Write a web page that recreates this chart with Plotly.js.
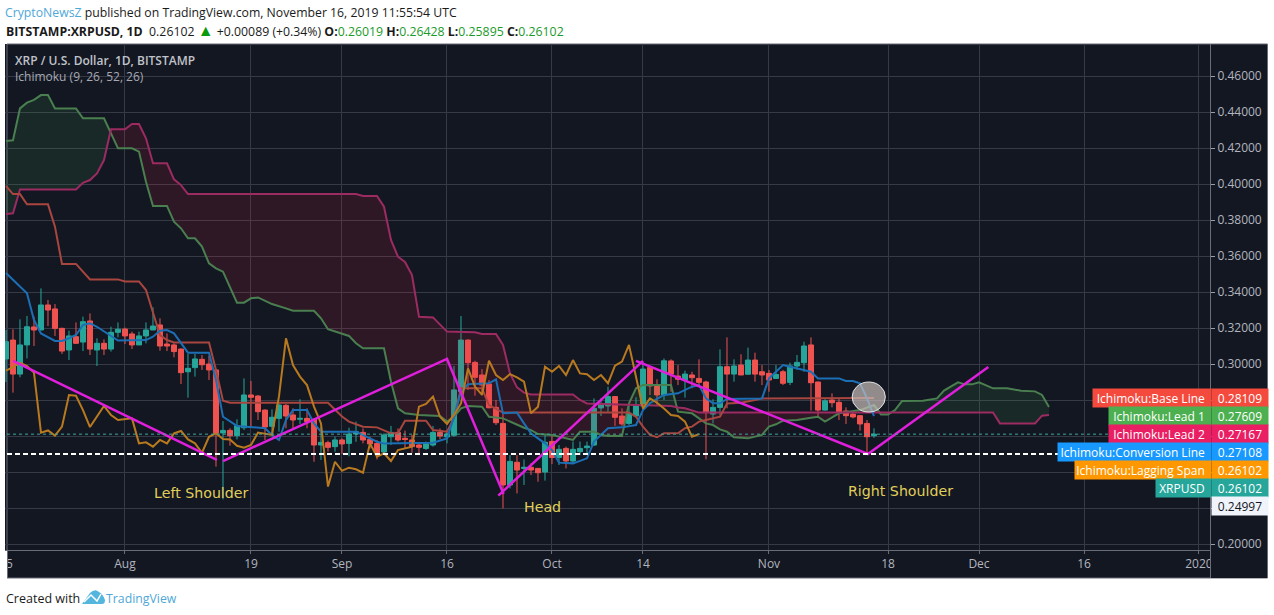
<!DOCTYPE html>
<html><head><meta charset="utf-8">
<script src="https://cdn.plot.ly/plotly-3.0.1.min.js"></script>
<style>html,body{margin:0;padding:0;background:#fff;overflow:hidden}#chart{position:absolute;left:0;top:0;width:1274px;height:615px}
.mask{position:absolute;z-index:5}</style></head>
<body><div id="chart"></div>
<div class="mask" style="left:0;top:551px;width:7px;height:30px;background:#fff"></div>
<div class="mask" style="left:7px;top:551px;width:1px;height:27px;background:#6a6d78"></div>
<div class="mask" style="left:1211px;top:551px;width:56px;height:27px;background:#131722"></div>
<script>
// ---- Daily candles, 2019-07-15 .. 2019-11-16 ----
const firstCandleDate = '2019-07-15';
const opens = [
 .3028,.3133,.2944,.3106,.3206,.3189,.3328,.3306,.3198,.3078,.3152,.3122,.3239,.3078,.3115,.3083,.3176,
 .3194,.3167,.3106,.3156,.3189,.3217,.3111,.3106,.3083,.2957,.2980,.3026,.3000,.2967,.2617,.2631,.2602,.2646,.2828,.2822,.2744,.2654,.2698,.2770,.2717,.2693,.2698,.2693,.2550,.2563,.2541,
 .2578,.2559,.2611,.2620,.2581,.2559,.2511,.2596,.2620,.2587,.2578,.2550,.2531,.2550,.2620,.2595,.2604,.2846,.3133,.3009,.2939,.2889,.2759,.2670,.2328,.2454,.2420,.2426,.2420,.2400,
 .2570,.2481,.2531,.2461,.2513,.2535,.2550,.2756,.2767,.2819,.2711,.2670,.2711,.2767,.2980,.2881,.2828,.3017,.2933,.2911,.2939,.2920,.2900,.2722,.2759,.2985,.2944,.2994,.2943,.3022,.2957,
 .2948,.2920,.2957,.2898,.2989,.3007,.3106,.2900,.2744,.2800,.2787,.2739,.2722,.2713,.2670,.26019];
const highs = [
 .3189,.3193,.3248,.3267,.3263,.3420,.3356,.3333,.3202,.3185,.3231,.3263,.3281,.3143,.3137,.3207,.3231,
 .3202,.3180,.3180,.3231,.3315,.3254,.3170,.3115,.3087,.3056,.3056,.3050,.3046,.2970,.2683,.2643,.2693,.2920,.2906,.2828,.2748,.2748,.2780,.2778,.2754,.2804,.2754,.2698,.2652,.2574,.2596,
 .2587,.2646,.2680,.2642,.2596,.2578,.2615,.2656,.2642,.2630,.2606,.2559,.2569,.2656,.2642,.2633,.2989,.3267,.3137,.3018,.2972,.2911,.2800,.2726,.2494,.2494,.2470,.2448,.2420,.2611,
 .2600,.2550,.2541,.2569,.2569,.2569,.2809,.2809,.2874,.2822,.2754,.2767,.2815,.3013,.2980,.2915,.3031,.3026,.2994,.2963,.2957,.3026,.2907,.2804,.3081,.3148,.3026,.3054,.3091,.3063,.2994,
 .2967,.2994,.2967,.3007,.3050,.3124,.3148,.2902,.2805,.2837,.2806,.2759,.2730,.2717,.2689,.26428];
const lows = [
 .2900,.2841,.2926,.3031,.3100,.3189,.3211,.3156,.3056,.3022,.3111,.3072,.3050,.2989,.3050,.3069,.3148,
 .3111,.3083,.3106,.3115,.3189,.3074,.3072,.3037,.2889,.2813,.2930,.2967,.2911,.2430,.2248,.2546,.2581,.2633,.2652,.2689,.2578,.2606,.2624,.2643,.2643,.2667,.2643,.2457,.2467,.2513,.2513,
 .2500,.2487,.2568,.2559,.2531,.2470,.2500,.2550,.2569,.2531,.2507,.2494,.2522,.2541,.2582,.2559,.2596,.2833,.2856,.2824,.2828,.2754,.2661,.2198,.2309,.2281,.2328,.2383,.2346,.2352,
 .2444,.2439,.2420,.2444,.2494,.2504,.2544,.2711,.2735,.2656,.2656,.2661,.2704,.2744,.2828,.2772,.2800,.2846,.2883,.2813,.2865,.2874,.2470,.2670,.2717,.2754,.2902,.2939,.2943,.2902,.2883,
 .2846,.2920,.2883,.2883,.2967,.2957,.2741,.2704,.2741,.2759,.2689,.2667,.2698,.2630,.2507,.25895];
const closes = [
 .3124,.2944,.3106,.3207,.3189,.3328,.3300,.3198,.3072,.3156,.3115,.3235,.3083,.3115,.3083,.3176,.3193,
 .3156,.3106,.3156,.3189,.3211,.3100,.3100,.3069,.2952,.2976,.3028,.2996,.2967,.2615,.2631,.2602,.2657,.2828,.2815,.2735,.2650,.2704,.2772,.2711,.2689,.2698,.2680,.2550,.2565,.2537,.2578,
 .2556,.2611,.2624,.2578,.2556,.2507,.2606,.2620,.2578,.2581,.2541,.2537,.2557,.2620,.2600,.2611,.2856,.3133,.3007,.2926,.2883,.2757,.2674,.2328,.2459,.2411,.2426,.2411,.2396,.2565,
 .2481,.2526,.2461,.2526,.2531,.2544,.2754,.2778,.2819,.2704,.2667,.2726,.2772,.2972,.2878,.2828,.3018,.2944,.2915,.2944,.2924,.2898,.2730,.2759,.2985,.2944,.2989,.2939,.3022,.2944,.2939,
 .2911,.2942,.2893,.2989,.3009,.3100,.2896,.2744,.2796,.2785,.2731,.2713,.2706,.2667,.2596,.26102];

// ---- Ichimoku lines (date "MM-DD" in 2019, value) ----
const conversionDates = ['07-15','07-16','07-18','07-19','07-20','07-22','07-23','07-24','07-25','07-26','07-27','07-28','07-29','07-30','07-31','08-04','08-05','08-06','08-07','08-08','08-09','08-10','08-13','08-14','08-15','08-16','08-17','08-21','08-22','08-23','08-24','08-25','08-27','08-28','08-29','09-03','09-06','09-07','09-14','09-16','09-17','09-18','09-19','09-22','09-23','09-24','09-26','09-27','09-28','09-29','09-30','10-01','10-02','10-04','10-06','10-07','10-08','10-09','10-11','10-13','10-14','10-15','10-16','10-17','10-19','10-20','10-21','10-22','10-23','10-24','10-25','10-26','10-31','11-01','11-02','11-03','11-04','11-06','11-07','11-08','11-11','11-12','11-13','11-14','11-15','11-16'];
const conversionValues = [.3506,.3467,.3393,.3244,.3170,.3128,.3128,.3143,.3161,.3217,.3226,.3207,.3180,.3152,.3130,.3133,.3152,.3185,.3189,.3170,.3115,.3063,.3063,.2911,.2707,.2680,.2656,.2643,.2606,.2578,.2689,.2744,.2744,.2670,.2624,.2624,.2568,.2559,.2563,.2587,.2704,.2846,.2887,.2893,.2915,.2726,.2730,.2670,.2615,.2587,.2559,.2522,.2452,.2448,.2476,.2569,.2606,.2643,.2648,.2661,.2744,.2782,.2806,.2828,.2837,.2856,.2874,.2883,.2809,.2782,.2782,.2806,.2809,.2920,.2957,.2994,.2985,.2967,.2957,.2920,.2920,.2906,.2906,.2893,.2809,.27108];

const baseDates = ['07-15','07-16','07-17','07-18','07-21','07-22','07-23','07-25','07-27','07-31','08-01','08-03','08-04','08-05','08-06','08-07','08-08','08-13','08-14','08-15','08-16','08-30','08-31','09-01','09-02','09-04','09-06','09-08','09-09','09-10','09-13','09-14','09-16','09-17','09-18','09-21','09-22','09-24','10-12','10-13','10-14','10-15','10-16','10-17','10-19','10-20','10-21','10-22','10-23','10-25','10-26','10-28','10-30','10-31','11-16'];
const baseValues = [.3989,.3944,.3944,.3887,.3887,.3763,.3556,.3556,.3470,.3470,.3459,.3459,.3411,.3281,.3161,.3133,.3120,.3120,.2967,.2796,.2785,.2785,.2744,.2708,.2680,.2652,.2648,.2615,.2615,.2685,.2685,.2633,.2624,.2700,.2865,.2865,.2772,.2730,.2730,.2707,.2652,.2606,.2593,.2615,.2615,.2643,.2652,.2680,.2689,.2707,.2781,.2785,.2800,.2809,.28109];

const lead1Dates = ['07-15','07-16','07-17','07-18','07-19','07-20','07-21','07-22','07-25','07-26','07-29','07-30','07-31','08-02','08-03','08-04','08-05','08-07','08-08','08-09','08-10','08-11','08-12','08-13','08-14','08-15','08-16','08-17','08-18','08-19','08-20','08-21','08-22','08-24','08-25','08-28','08-29','08-30','08-31','09-01','09-02','09-03','09-04','09-07','09-08','09-09','09-10','09-12','09-15','09-16','09-17','09-18','09-19','09-21','09-22','09-24','09-25','09-27','09-28','09-29','10-01','10-02','10-04','10-05','10-07','10-08','10-09','10-11','10-12','10-13','10-14','10-18','10-19','10-21','10-22','10-23','10-24','10-25','10-26','10-27','10-29','10-31','11-01','11-02','11-03','11-05','11-07','11-08','11-09','11-11','11-14','11-16','11-17','11-18','11-19','11-20','11-23','11-25','11-26','11-28','11-29','11-30','12-01','12-03','12-05','12-07','12-09','12-10','12-11'];
const lead1Values = [.4239,.4243,.4420,.4452,.4467,.4494,.4494,.4420,.4420,.4365,.4365,.4282,.4198,.4198,.4180,.4013,.3878,.3878,.3791,.3754,.3698,.3698,.3652,.3559,.3531,.3513,.3430,.3341,.3341,.3365,.3370,.3352,.3333,.3309,.3296,.3296,.3254,.3193,.3180,.3170,.3156,.3115,.3087,.3087,.2902,.2754,.2726,.2717,.2711,.2680,.2707,.2754,.2767,.2763,.2707,.2698,.2680,.2646,.2633,.2611,.2606,.2596,.2578,.2624,.2624,.2606,.2600,.2600,.2781,.2865,.2883,.2883,.2735,.2726,.2698,.2670,.2661,.2637,.2624,.2593,.2587,.2606,.2652,.2665,.2685,.2689,.2702,.2707,.2680,.2726,.2744,.2772,.2720,.2720,.2744,.2794,.2796,.2809,.2852,.2898,.2887,.2887,.2898,.2865,.2865,.2852,.2848,.2828,.27609];

const lead2Dates = ['07-15','07-16','07-17','07-25','07-26','07-27','07-28','07-29','07-30','08-01','08-02','08-03','08-04','08-05','08-07','08-08','08-09','08-10','09-03','09-04','09-06','09-07','09-08','09-09','09-10','09-11','09-12','09-14','09-16','09-20','09-21','09-23','09-24','09-25','09-26','09-27','09-28','10-04','10-05','10-06','10-13','10-18','10-19','10-20','10-22','12-03','12-04','12-09','12-10','12-11'];
const lead2Values = [.3833,.3837,.3970,.3970,.4007,.4022,.4059,.4133,.4304,.4304,.4333,.4333,.4254,.4115,.4115,.4026,.3994,.3944,.3944,.3933,.3933,.3874,.3689,.3596,.3567,.3494,.3263,.3259,.3180,.3176,.3167,.3167,.3106,.2948,.2870,.2841,.2831,.2831,.2800,.2781,.2772,.2767,.2759,.2754,.2730,.2731,.2670,.2670,.2713,.27167];

const laggingDates = ['07-15','07-16','07-17','07-18','07-19','07-20','07-21','07-22','07-23','07-24','07-25','07-26','07-27','07-28','07-29','07-30','07-31','08-02','08-03','08-04','08-05','08-06','08-07','08-08','08-09','08-10','08-11','08-12','08-13','08-14','08-15','08-16','08-17','08-18','08-19','08-20','08-21','08-22','08-23','08-24','08-25','08-26','08-27','08-28','08-29','08-30','08-31','09-01','09-02','09-03','09-04','09-05','09-06','09-07','09-08','09-09','09-11','09-12','09-13','09-14','09-15','09-16','09-17','09-18','09-19','09-20','09-21','09-22','09-23','09-24','09-25','09-26','09-27','09-28','09-29','09-30','10-01','10-02','10-03','10-04','10-05','10-06','10-07','10-08','10-09','10-10','10-11','10-12','10-13','10-14','10-15','10-16','10-17','10-18','10-19','10-20','10-21','10-22'];
const laggingValues = [.2963,.2982,.3007,.2989,.2952,.2619,.2631,.2602,.2652,.2828,.2824,.2744,.2650,.2707,.2767,.2717,.2689,.2698,.2559,.2565,.2541,.2578,.2559,.2615,.2628,.2581,.2559,.2507,.2596,.2615,.2583,.2581,.2546,.2535,.2550,.2619,.2611,.2606,.2820,.3143,.2994,.2930,.2883,.2763,.2670,.2319,.2457,.2407,.2424,.2415,.2396,.2559,.2485,.2504,.2461,.2522,.2541,.2763,.2778,.2819,.2707,.2667,.2717,.2781,.2976,.2874,.2828,.3018,.2939,.2911,.2944,.2926,.2902,.2726,.2763,.2985,.2957,.2989,.2939,.3022,.2948,.2943,.2911,.2939,.2893,.2991,.3013,.3106,.2929,.2753,.2809,.2785,.2753,.2717,.2711,.2680,.2596,.26102];

// ---- Hand-drawn head & shoulders lines ----
const patternLeftDates = ['2019-07-16','2019-08-14 03:00'];       const patternLeftValues = [.3017,.2467];
const patternMidDates = ['2019-08-15','2019-09-16','2019-09-24 02:00']; const patternMidValues = [.2461,.3028,.2278];
const patternRightDates = ['2019-09-23 08:00','2019-10-14'];      const patternRightValues = [.2269,.3017];
const patternEndDates = ['2019-10-13','2019-11-15 03:00','2019-12-02 08:00']; const patternEndValues = [.3017,.2500,.2983];

// ---- Cloud sections: [from, to] ----
const greenCloud = [['07-15','07-30'],['10-12 18:00','10-19'],['11-10 12:00','12-11']];
const redCloud = [['07-30','10-12 18:00'],['10-19','11-10 12:00']];

// ---- Axis ticks ----
const xTickDates = ['2019-07-15','2019-08-01','2019-08-19','2019-09-01','2019-09-16','2019-10-01','2019-10-14','2019-11-01','2019-11-18','2019-12-01','2019-12-16','2020-01-01 10:00'];
const xTickLabels = ['15','Aug','19','Sep','16','Oct','14','Nov','18','Dec','16','2020'];
const yTickValues = [.20,.22,.24,.26,.28,.30,.32,.34,.36,.38,.40,.42,.44,.46];
const yTickLabels = ['0.20000','','','','','0.30000','0.32000','0.34000','0.36000','0.38000','0.40000','0.42000','0.44000','0.46000'];

// ---- Price tags ----
const lastClose = 0.26102, drawnLevel = 0.24997;
const tagNames = ['Ichimoku:Base Line','Ichimoku:Lead 1','Ichimoku:Lead 2','Ichimoku:Conversion Line','Ichimoku:Lagging Span','XRPUSD',''];
const tagValues = ['0.28109','0.27609','0.27167','0.27108','0.26102','0.26102','0.24997'];
const tagColors = ['#f44a3e','#4caf50','#e91e63','#1799ff','#ff9800','#26a69a','#f0f3fa'];

// ---- Layout geometry ----
const W=1274,H=615,L=5,R=64,T=44,B=65, pw=W-L-R, ph=H-T-B;
const xp=x=>(x-L)/pw, yp=y=>1-(y-T)/ph;
const tagCenterY=[398,416,434,452,470,488,506], tagLeftX=[1092,1108,1108,1057,1074,1155,1211];
const md=s=>'2019-'+s;
const ms=s=>new Date(s.replace(' ','T')+(s.length>10?':00Z':'T00:00:00Z')).getTime();

const candleDates=closes.map((_,i)=>new Date(ms(firstCandleDate)+i*864e5).toISOString().slice(0,10));
const lineTrace=(d,v,c,w)=>({type:'scatter',mode:'lines',x:d.map(md),y:v,line:{color:c,width:w||2},hoverinfo:'skip',showlegend:false});
const patTrace=(d,v)=>({type:'scatter',mode:'lines',x:d,y:v,line:{color:'#e01fdc',width:2.5},hoverinfo:'skip',showlegend:false});

function at(dates,vals,t){const xs=dates.map(s=>ms(md(s)));
  if(t<=xs[0])return vals[0]; for(let i=1;i<xs.length;i++){if(t<=xs[i]){const f=(t-xs[i-1])/(xs[i]-xs[i-1]);return vals[i-1]+f*(vals[i]-vals[i-1]);}} return vals[vals.length-1];}
function cloud(seg,color){const a=ms(md(seg[0])),b=ms(md(seg[1]));
  const pick=(d,v)=>{const xs=[a],ys=[at(d,v,a)];d.forEach((s,i)=>{const t=ms(md(s));if(t>a&&t<b){xs.push(t);ys.push(v[i]);}});xs.push(b);ys.push(at(d,v,b));return [xs,ys];};
  const [x1,y1]=pick(lead1Dates,lead1Values),[x2,y2]=pick(lead2Dates,lead2Values);
  return {type:'scatter',mode:'none',x:x1.concat(x2.slice().reverse()).map(t=>new Date(t).toISOString()),y:y1.concat(y2.slice().reverse()),fill:'toself',fillcolor:color,hoverinfo:'skip',showlegend:false};}

const traces=[
 {type:'candlestick',x:candleDates,open:opens,high:highs,low:lows,close:closes,whiskerwidth:0,
  increasing:{line:{color:'#26a69a',width:1},fillcolor:'#26a69a'},decreasing:{line:{color:'#ef5350',width:1},fillcolor:'#ef5350'},hoverinfo:'skip',showlegend:false},
 ...greenCloud.map(s=>cloud(s,'rgba(76,175,80,0.12)')),
 ...redCloud.map(s=>cloud(s,'rgba(233,30,60,0.13)')),
 lineTrace(lead1Dates,lead1Values,'#4a7f50'),
 lineTrace(lead2Dates,lead2Values,'#9c2b62'),
 lineTrace(baseDates,baseValues,'#a8463f'),
 lineTrace(conversionDates,conversionValues,'#1c6fb5'),
 lineTrace(laggingDates,laggingValues,'#b97a1f'),
 patTrace(patternLeftDates,patternLeftValues),
 patTrace(patternMidDates,patternMidValues),
 patTrace(patternRightDates,patternRightValues),
 patTrace(patternEndDates,patternEndValues)
];

const uiFont='"Open Sans", sans-serif', axisCol='#b2b5be', frame='#6a6d78';
const note=(x,y,text,size,color,extra)=>Object.assign({xref:'paper',yref:'paper',x:xp(x),y:yp(y),text,showarrow:false,xanchor:'left',yanchor:'middle',font:{family:uiFont,size,color}},extra||{});
const g='#1a9a2a', gs=s=>`<span style="color:${g}">${s}</span>`;
const yellow={xanchor:'center',font:{family:'"DejaVu Sans"',size:14.2,color:'#e0cf5a'}};

const annotations=[
 note(4,30,`<b>BITSTAMP:XRPUSD, 1D</b>  0.26102 <span style="color:#0a9a0a;font-size:16px">▲</span> +0.00089 (+0.34%) <b>O:</b>${gs('0.26019')} <b>H:</b>${gs('0.26428')} <b>L:</b>${gs('0.25895')} <b>C:</b>${gs('0.26102')}`,12.3,'#1a1a1a'),
 note(13,60,'XRP / U.S. Dollar, 1D, BITSTAMP',12,'#b7bac2',{font:{family:uiFont,size:12,color:'#c0c3ca',weight:600}}),
 note(13,77,'Ichimoku (9, 26, 52, 26)',12,'#a6a9b2'),
 note(201,493,'Left Shoulder',14,'#e0cf5a',yellow),
 note(542,507,'Head',14,'#e0cf5a',yellow),
 note(900,491,'Right Shoulder',14,'#e0cf5a',yellow),
 note(4,598,'Created with',12.5,'#1a1a1a'),
 note(104,598,'TradingView',12.3,'#4fa8d8'),
];
tagNames.forEach((n,i)=>{
  if(n) annotations.push(note(tagLeftX[i],tagCenterY[i],n+'\u00a0\u00a0',12,'#ffffff',{width:1210-tagLeftX[i],height:18,align:'right',bgcolor:tagColors[i],borderpad:0}));
  annotations.push(note(1211,tagCenterY[i],tagValues[i],12,i===6?'#131722':'#ffffff',{width:56,height:18,align:'center',bgcolor:tagColors[i],borderpad:0}));
});

const shapes=[
 {type:'rect',layer:'below',xref:'paper',yref:'paper',x0:xp(7),x1:xp(1267.5),y0:yp(578),y1:yp(44),fillcolor:'#131722',line:{color:frame,width:1}},
 {type:'line',layer:'above',xref:'paper',yref:'paper',x0:xp(1210.5),x1:xp(1210.5),y0:yp(578),y1:yp(550),line:{color:frame,width:1}},
 {type:'line',layer:'above',xref:'paper',yref:'y',x0:xp(7),x1:1,y0:lastClose,y1:lastClose,line:{color:'#3fa79d',width:1,dash:'dot'}},
 {type:'line',layer:'above',xref:'paper',yref:'y',x0:xp(7),x1:1,y0:drawnLevel,y1:drawnLevel,line:{color:'#ffffff',width:2,dash:'5px,3px'}},
 {type:'circle',layer:'above',xref:'x',yref:'y',x0:'2019-11-12 21:00',x1:'2019-11-17 15:00',y0:.2733,y1:.2900,fillcolor:'rgba(205,195,190,0.68)',line:{color:'#e4e4e4',width:1}},
 {type:'path',layer:'above',xref:'paper',yref:'paper',fillcolor:'#54b6de',line:{width:0},
  path:`M ${xp(82)} ${yp(604)} L ${xp(90)} ${yp(593)} Q ${xp(95)} ${yp(588)} ${xp(99)} ${yp(592)} Q ${xp(103)} ${yp(594)} ${xp(105)} ${yp(600)} Q ${xp(105)} ${yp(604)} ${xp(102)} ${yp(604)} Z`},
 {type:'path',layer:'above',xref:'paper',yref:'paper',line:{color:'#ffffff',width:1.5},
  path:`M ${xp(84)} ${yp(602)} L ${xp(91)} ${yp(595)} L ${xp(97)} ${yp(601)} L ${xp(101)} ${yp(594)}`},
];

const layout={width:W,height:H,autosize:false,margin:{l:L,r:R,t:T,b:B,pad:0},
 title:{text:'<span style="color:#4fa8d8">CryptoNewsZ</span> published on TradingView.com, November 16, 2019 11:55:54 UTC',xref:'paper',x:xp(5),xanchor:'left',yref:'container',y:1-13/H,yanchor:'middle',font:{family:uiFont,size:12.25,color:'#1a1a1a'}},
 paper_bgcolor:'#ffffff',plot_bgcolor:'#131722',showlegend:false,boxgap:0.15,boxgroupgap:0.15,
 xaxis:{type:'date',range:['2019-07-14 20:38','2020-01-03'],rangeslider:{visible:false},tickmode:'array',tickvals:xTickDates,ticktext:xTickLabels,ticks:'outside',ticklen:3,tickcolor:frame,ticklabeloverflow:'allow',
  showgrid:true,gridcolor:'#363a47',gridwidth:1,showline:true,linecolor:frame,linewidth:1,zeroline:false,tickfont:{family:uiFont,size:12,color:axisCol}},
 yaxis:{side:'right',range:[.19667,.47778],tickmode:'array',tickvals:yTickValues,ticktext:yTickLabels,ticks:'outside',ticklen:4,tickcolor:'#9a9da6',
  showgrid:true,gridcolor:'#363a47',gridwidth:1,showline:true,linecolor:frame,linewidth:1,zeroline:false,tickfont:{family:uiFont,size:12,color:axisCol}},
 annotations,shapes};
Plotly.newPlot('chart',traces,layout,{displayModeBar:false,staticPlot:true});
</script></body></html>
